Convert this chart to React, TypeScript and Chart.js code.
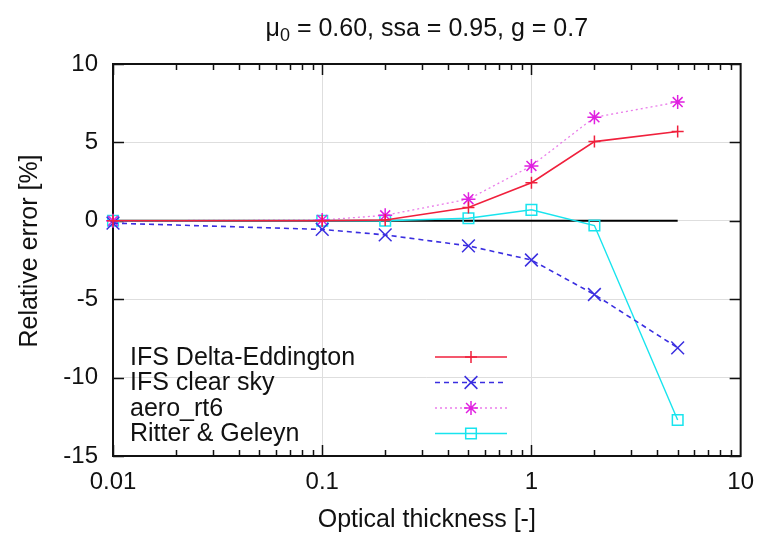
import React, { useEffect, useRef } from "react";
import { Chart, registerables } from "chart.js";
import { drawPoint } from "chart.js/helpers";
Chart.register(...registerables);

const opticalThickness = [0.01, 0.1, 0.2, 0.5, 1, 2, 5];
const ifsDeltaEddington = [0, 0, 0.05, 0.85, 2.43, 5.05, 5.7];
const ifsClearSky = [-0.15, -0.55, -0.9, -1.6, -2.5, -4.7, -8.1];
const aeroRt6 = [0, 0.05, 0.35, 1.38, 3.5, 6.6, 7.57];
const ritterGeleyn = [0, 0, 0, 0.16, 0.7, -0.3, -12.7];
const zeroLineX = [0.01, 5];
const zeroLineY = [0, 0];

const xTickValues = [0.01, 0.1, 1, 10];
const xTickLabels = ["0.01", "0.1", "1", "10"];
const xDecadeExponents = [-2, -1, 0];
const xMinorMultipliers = [2, 3, 4, 5, 6, 7, 8, 9];
const yTickValues = [-15, -10, -5, 0, 5, 10];

const seriesNames = ["IFS Delta-Eddington", "IFS clear sky", "aero_rt6", "Ritter & Geleyn"];
const titleMain = "μ";
const titleSub = "0";
const titleRest = " = 0.60, ssa = 0.95, g = 0.7";
const xTitle = "Optical thickness [-]";
const yTitle = "Relative error [%]";

const FONT = '"Liberation Sans", Arial, Helvetica, sans-serif';

const seriesStyles = [
  { color: "#f0203c", line: "#f0203c", dash: [] as number[], width: 1.6, point: "cross", radius: 6 },
  { color: "#3a2ee0", line: "#3a2ee0", dash: [5, 4], width: 1.6, point: "crossRot", radius: 9 },
  { color: "#e020e0", line: "rgba(225,70,225,0.7)", dash: [2, 3], width: 1.3, point: "star", radius: 7 },
  { color: "#18e4ee", line: "#18e4ee", dash: [] as number[], width: 1.4, point: "rect", radius: 7.5 },
];

const seriesValues = [ifsDeltaEddington, ifsClearSky, aeroRt6, ritterGeleyn];

const framePlugin = {
  id: "frameTicks",
  beforeDraw(chart: any) {
    const ctx = chart.ctx;
    ctx.save();
    ctx.fillStyle = "#ffffff";
    ctx.fillRect(0, 0, chart.width, chart.height);
    ctx.restore();
  },
  beforeDatasetsDraw(chart: any) {
    const { ctx, chartArea, scales } = chart;
    const { left, right, top, bottom } = chartArea;
    const xs = scales.x;
    const ys = scales.y;
    ctx.save();
    ctx.strokeStyle = "#111";
    ctx.lineWidth = 1.5;
    ctx.beginPath();
    const xTick = (v: number, len: number) => {
      const px = Math.round(xs.getPixelForValue(v)) + 0.5;
      ctx.moveTo(px, bottom);
      ctx.lineTo(px, bottom - len);
      ctx.moveTo(px, top);
      ctx.lineTo(px, top + len);
    };
    xDecadeExponents.forEach((e) => {
      const base = Math.pow(10, e);
      xTick(base, 11);
      xMinorMultipliers.forEach((m) => xTick(m * base, 6));
    });
    yTickValues.forEach((v) => {
      const py = Math.round(ys.getPixelForValue(v)) + 0.5;
      ctx.moveTo(left, py);
      ctx.lineTo(left + 11, py);
      ctx.moveTo(right, py);
      ctx.lineTo(right - 11, py);
    });
    ctx.stroke();
    ctx.lineWidth = 2;
    ctx.strokeRect(left, top, right - left, bottom - top);
    ctx.restore();
  },
  afterDraw(chart: any) {
    const { ctx, chartArea } = chart;
    const { left, right, top, bottom } = chartArea;
    ctx.save();
    ctx.fillStyle = "#111";
    // Title
    ctx.textBaseline = "alphabetic";
    ctx.textAlign = "left";
    ctx.font = `25px ${FONT}`;
    const w1 = ctx.measureText(titleMain).width;
    const w3 = ctx.measureText(titleRest).width;
    ctx.font = `18px ${FONT}`;
    const w2 = ctx.measureText(titleSub).width;
    const total = w1 + w2 + w3;
    let tx = (left + right) / 2 - total / 2;
    const tb = 36;
    ctx.font = `25px ${FONT}`;
    ctx.fillText(titleMain, tx, tb);
    tx += w1;
    ctx.font = `18px ${FONT}`;
    ctx.fillText(titleSub, tx, tb + 5);
    tx += w2;
    ctx.font = `25px ${FONT}`;
    ctx.fillText(titleRest, tx, tb);

    // X title
    ctx.textAlign = "center";
    ctx.font = `25px ${FONT}`;
    ctx.fillText(xTitle, (left + right) / 2, 527);

    // Y title
    ctx.save();
    ctx.translate(37, (top + bottom) / 2 - 9);
    ctx.rotate(-Math.PI / 2);
    ctx.fillText(yTitle, 0, 0);
    ctx.restore();

    // Legend
    const rowCenters = [357, 382.5, 408, 433.5];
    seriesNames.forEach((name, i) => {
      const st = seriesStyles[i];
      const cy = rowCenters[i];
      ctx.textAlign = "left";
      ctx.textBaseline = "middle";
      ctx.fillStyle = "#111";
      ctx.font = `25px ${FONT}`;
      ctx.fillText(name, 130, cy + 1);
      ctx.save();
      ctx.strokeStyle = st.line;
      ctx.lineWidth = Math.max(st.width, 1.5);
      ctx.setLineDash(st.dash);
      ctx.beginPath();
      ctx.moveTo(435, cy);
      ctx.lineTo(507, cy);
      ctx.stroke();
      ctx.setLineDash([]);
      ctx.strokeStyle = st.color;
      ctx.fillStyle = "rgba(0,0,0,0)";
      ctx.lineWidth = 1.5;
      drawPoint(ctx, { pointStyle: st.point, radius: st.radius, rotation: 0, borderWidth: 1.5 } as any, 471, cy);
      ctx.restore();
    });
    ctx.restore();
  },
};

export default function App() {
  const canvasRef = useRef<HTMLCanvasElement | null>(null);

  useEffect(() => {
    document.body.style.margin = "0";
    const canvas = canvasRef.current;
    if (!canvas) return;

    const datasets: any[] = seriesValues.map((vals, i) => {
      const st = seriesStyles[i];
      return {
        label: seriesNames[i],
        data: opticalThickness.map((x, j) => ({ x, y: vals[j] })),
        borderColor: st.line,
        borderWidth: st.width,
        borderDash: st.dash,
        backgroundColor: "rgba(0,0,0,0)",
        pointStyle: st.point,
        pointRadius: st.radius,
        pointBorderColor: st.color,
        pointBackgroundColor: "rgba(0,0,0,0)",
        pointBorderWidth: 1.5,
        tension: 0,
        clip: false,
      };
    });
    datasets.push({
      label: "zero",
      data: zeroLineX.map((x, j) => ({ x, y: zeroLineY[j] })),
      borderColor: "#000",
      borderWidth: 2,
      pointRadius: 0,
      tension: 0,
      clip: false,
    });

    const chart = new Chart(canvas, {
      type: "line",
      data: { datasets },
      options: {
        animation: false,
        responsive: false,
        devicePixelRatio: 1,
        events: [],
        layout: { padding: { left: 0, right: 23, top: 64, bottom: 0 } },
        plugins: {
          legend: { display: false },
          title: { display: false },
          tooltip: { enabled: false },
        },
        scales: {
          x: {
            type: "logarithmic",
            min: 0.01,
            max: 10,
            afterBuildTicks: (scale: any) => {
              scale.ticks = xTickValues.map((v) => ({ value: v }));
            },
            afterFit: (scale: any) => {
              scale.height = 78;
            },
            ticks: {
              autoSkip: false,
              maxRotation: 0,
              padding: 12,
              color: "#111",
              font: { family: FONT, size: 24 },
              callback: (value: any) => {
                const idx = xTickValues.indexOf(Number(value));
                return idx >= 0 ? xTickLabels[idx] : "";
              },
            },
            grid: {
              drawTicks: false,
              lineWidth: 1,
              color: (c: any) => {
                const v = c.tick ? c.tick.value : null;
                return v === 0.1 || v === 1 ? "#dedede" : "rgba(0,0,0,0)";
              },
            },
            border: { display: false },
          },
          y: {
            type: "linear",
            min: -15,
            max: 10,
            ticks: {
              stepSize: 5,
              padding: 15,
              color: "#111",
              font: { family: FONT, size: 24 },
            },
            afterFit: (scale: any) => {
              scale.width = 113;
            },
            grid: {
              drawTicks: false,
              lineWidth: 1,
              color: (c: any) => {
                const v = c.tick ? c.tick.value : null;
                return v === -15 || v === 10 ? "rgba(0,0,0,0)" : "#dedede";
              },
            },
            border: { display: false },
          },
        },
      },
      plugins: [framePlugin],
    });

    return () => chart.destroy();
  }, []);

  return (
    <div style={{ width: 766, height: 534 }}>
      <canvas ref={canvasRef} width={766} height={534} style={{ display: "block" }} />
    </div>
  );
}
